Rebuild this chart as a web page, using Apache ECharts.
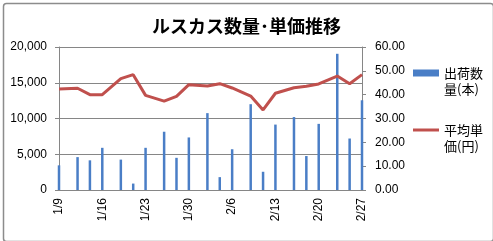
<!DOCTYPE html>
<html>
<head>
<meta charset="utf-8">
<script src="https://cdn.jsdelivr.net/npm/echarts@6/dist/echarts.min.js"></script>
<style>
html,body{margin:0;padding:0;background:#fff;}
#c{width:493px;height:241px;}
</style>
</head>
<body>
<div id="c"></div>
<script>
// ---- data ----
var titleText = 'ルスカス数量･単価推移';
var qtyName = '出荷数\n量(本)';
var priceName = '平均単\n価(円)';
var dates = ['1/9','1/12','1/14','1/16','1/19','1/21','1/23','1/26','1/28','1/30','2/2','2/4','2/6','2/9','2/11','2/13','2/16','2/18','2/20','2/23','2/25','2/27'];
var qty = [3450,4600,4150,5900,4250,900,5900,8150,4500,7350,10750,1800,5700,12000,2550,9150,10200,4750,9250,19050,7200,12550];
var price = [42.4,42.7,40.0,40.0,46.7,48.4,39.7,37.3,39.3,44.2,43.6,44.6,42.8,39.4,33.6,40.6,42.9,43.5,44.5,47.8,44.6,48.4];
var startMonth = 1, startDay = 9, dayCount = 50;

// daily category axis (date axis)
var days = [];
(function(){
  var d = new Date(2013, startMonth - 1, startDay);
  for (var i = 0; i < dayCount; i++) {
    days.push((d.getMonth() + 1) + '/' + d.getDate());
    d.setDate(d.getDate() + 1);
  }
})();

var qtyData = dates.map(function(d, i){ return [d, qty[i]]; });
var priceData = dates.map(function(d, i){ return [d, price[i]]; });

var jp = '"Noto Sans CJK JP", sans-serif';
var num = '"Liberation Sans", "DejaVu Sans", sans-serif';
var axisGray = '#868686';

var chart = echarts.init(document.getElementById('c'), null, {renderer: 'canvas'});
var legendText = {fontFamily: jp, fontSize: 13, color: '#000', lineHeight: 16};
chart.setOption({
  animation: false,
  backgroundColor: '#fff',
  graphic: [{
    type: 'rect', left: 1, top: 1, shape: {width: 490, height: 238, r: 3},
    style: {fill: 'none', stroke: '#8c8c8c', lineWidth: 1.5}, silent: true
  }],
  title: {
    text: titleText, left: 'center', top: 12,
    textStyle: {fontFamily: jp, fontSize: 18, fontWeight: 'bold', color: '#000'}
  },
  legend: [{
    data: [qtyName], orient: 'vertical', left: 413, top: 49, padding: 0,
    itemWidth: 26, itemHeight: 7, itemGap: 0, icon: 'rect',
    formatter: function(n){ return '\n' + n; },
    textStyle: legendText
  }, {
    data: [{name: priceName, icon: 'path://M0,0 L26,0 L26,3 L0,3 Z'}], orient: 'vertical', left: 413, top: 106, padding: 0,
    itemWidth: 26, itemHeight: 3, itemGap: 0,
    formatter: function(n){ return '\n' + n; },
    textStyle: legendText
  }],
  grid: {left: 59, right: 131, top: 47, bottom: 51, containLabel: false},
  xAxis: {
    type: 'category', data: days, boundaryGap: false,
    axisLine: {show: true, lineStyle: {color: axisGray, width: 1}},
    axisTick: {show: false},
    axisLabel: {interval: 6, rotate: 90, fontFamily: num, fontSize: 12, color: '#000', margin: 8},
    splitLine: {show: false}
  },
  yAxis: [{
    type: 'value', min: 0, max: 20000, interval: 5000,
    axisLine: {show: true, lineStyle: {color: axisGray}},
    axisTick: {show: true, length: 4, lineStyle: {color: axisGray}},
    axisLabel: {fontFamily: num, fontSize: 12, color: '#000', margin: 12,
      formatter: function(v){ return v.toLocaleString('en-US'); }},
    splitLine: {show: true, lineStyle: {color: axisGray, width: 1}}
  }, {
    type: 'value', min: 0, max: 60, interval: 10,
    axisLine: {show: true, lineStyle: {color: axisGray}},
    axisTick: {show: true, length: 4, lineStyle: {color: axisGray}},
    axisLabel: {fontFamily: num, fontSize: 12, color: '#000', margin: 13,
      formatter: function(v){ return v.toFixed(2); }},
    splitLine: {show: false}
  }],
  series: [{
    name: qtyName, type: 'bar', yAxisIndex: 0, data: qtyData,
    barWidth: 2.5, itemStyle: {color: '#4A7EC6'}
  }, {
    name: priceName, type: 'line', yAxisIndex: 1, data: priceData,
    symbol: 'none', lineStyle: {color: '#C0504D', width: 3}, itemStyle: {color: '#C0504D'}
  }]
});
</script>
</body>
</html>
